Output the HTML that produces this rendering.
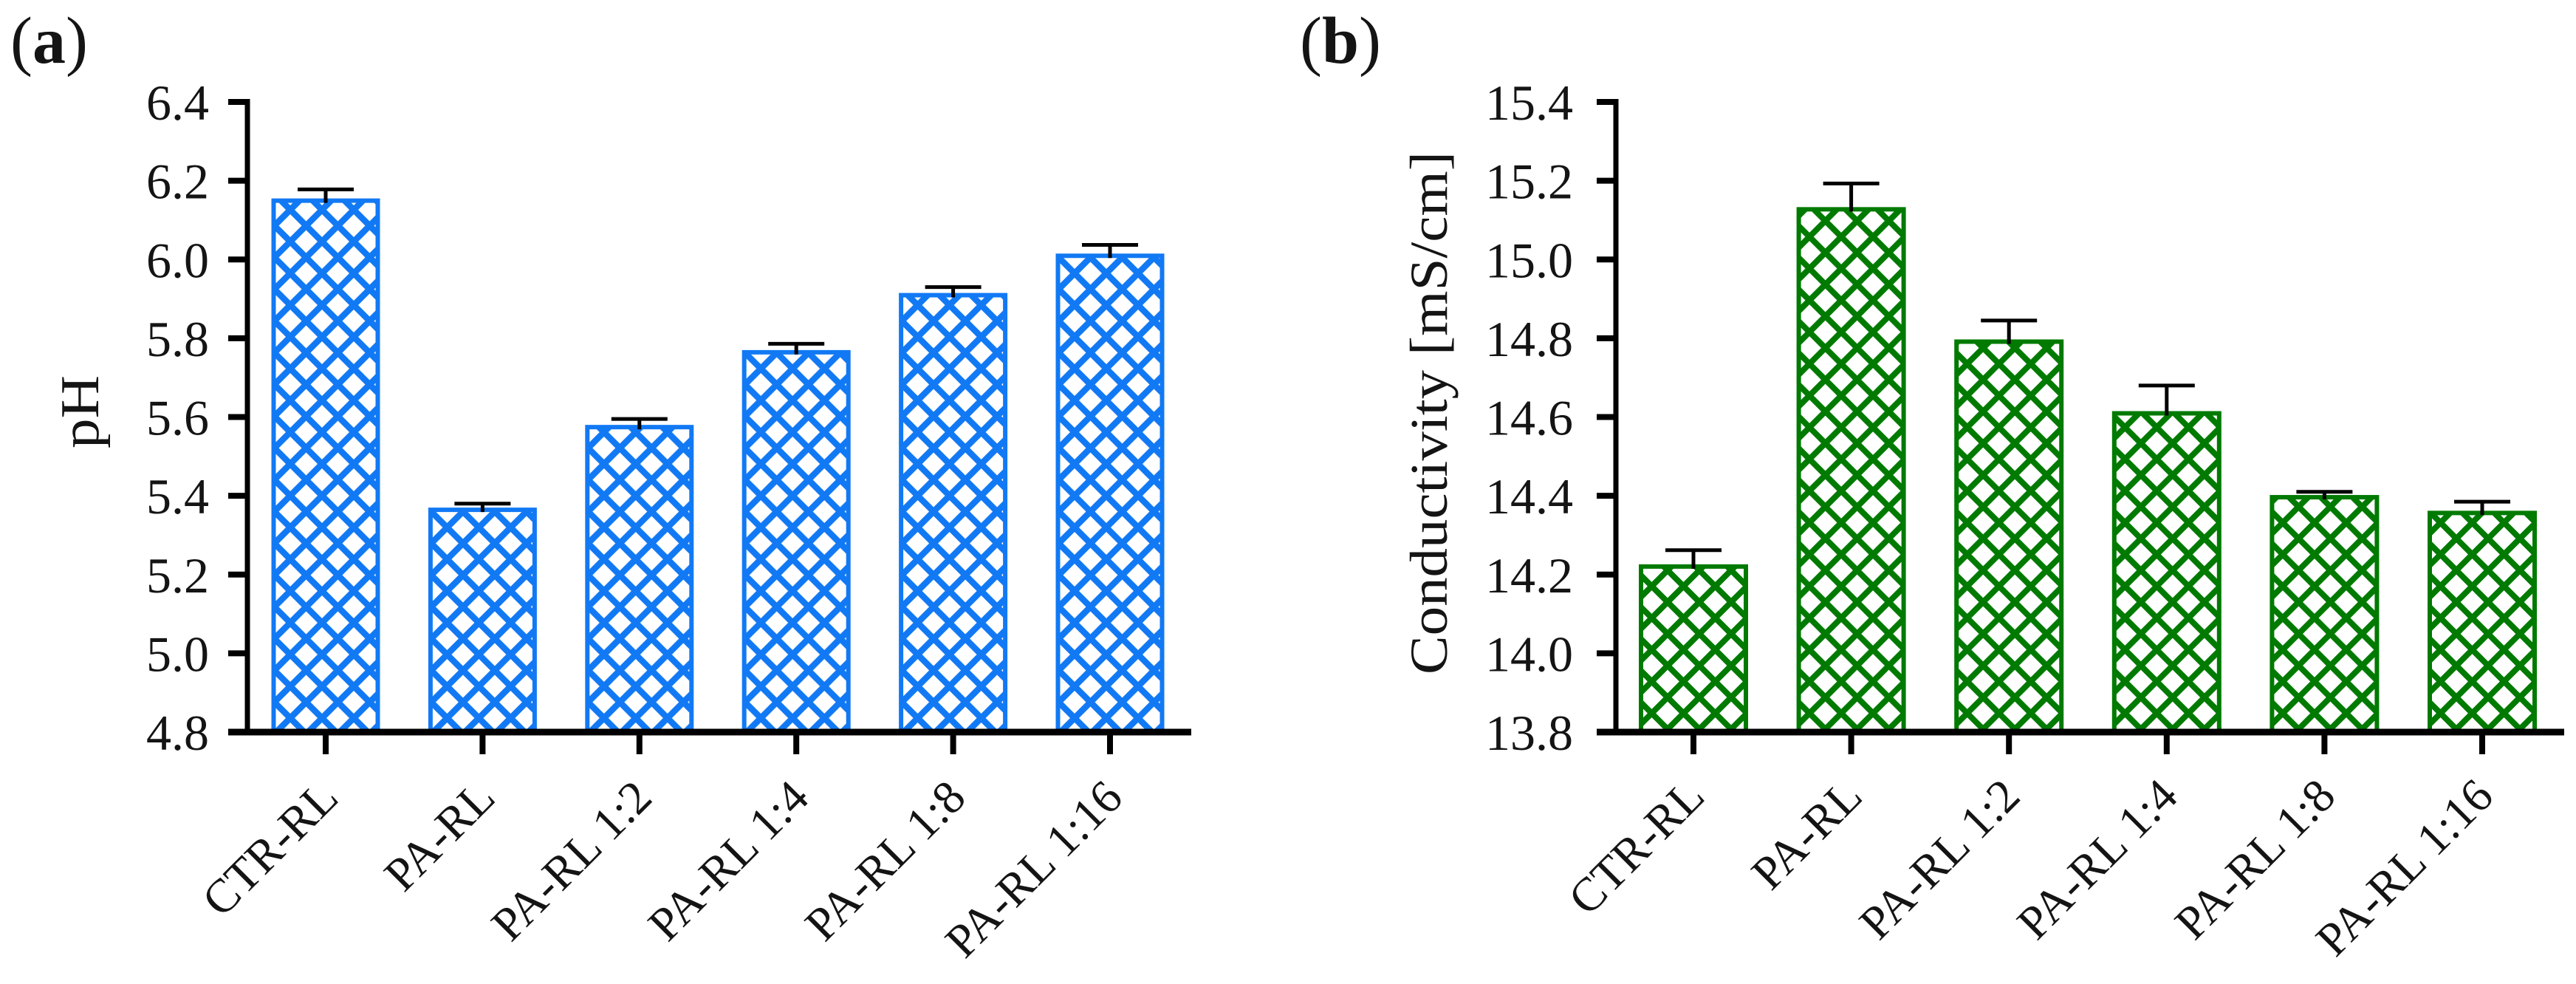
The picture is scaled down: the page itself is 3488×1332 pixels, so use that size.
<!DOCTYPE html>
<html lang="en">
<head>
<meta charset="utf-8">
<title>pH and conductivity bar charts</title>
<style>
html,body{margin:0;padding:0;background:#fff;width:3488px;height:1332px;overflow:hidden}
svg{display:block}
text{font-family:"Liberation Serif","DejaVu Serif",serif;fill:#141414}
</style>
</head>
<body>
<svg id="figure" xmlns="http://www.w3.org/2000/svg" width="3488" height="1332" viewBox="0 0 3488 1332">
  <defs id="defs"></defs>
  <text x="14" y="85" font-size="90" font-weight="400">(<tspan font-weight="700">a</tspan>)</text>
  <text x="1760" y="85" font-size="90" font-weight="400">(<tspan font-weight="700">b</tspan>)</text>
  <text transform="translate(133,607) rotate(-90)" font-size="74" textLength="99" lengthAdjust="spacingAndGlyphs">pH</text>
  <text transform="translate(1959,913) rotate(-90)" font-size="72" textLength="708" lengthAdjust="spacingAndGlyphs">Conductivity [mS/cm]</text>
  <g id="panel-a"></g>
  <g id="panel-b"></g>
</svg>
<script>
const categories = ["CTR-RL", "PA-RL", "PA-RL 1:2", "PA-RL 1:4", "PA-RL 1:8", "PA-RL 1:16"];
const phValues = [6.155, 5.37, 5.58, 5.77, 5.915, 6.015];
const phErrorTops = [6.178, 5.38, 5.595, 5.786, 5.93, 6.037];
const phTicks = ["4.8", "5.0", "5.2", "5.4", "5.6", "5.8", "6.0", "6.2", "6.4"];
const conductivityValues = [14.226, 15.133, 14.797, 14.615, 14.402, 14.362];
const conductivityErrorTops = [14.262, 15.193, 14.845, 14.68, 14.41, 14.385];
const conductivityTicks = ["13.8", "14.0", "14.2", "14.4", "14.6", "14.8", "15.0", "15.2", "15.4"];

const NS = "http://www.w3.org/2000/svg";
const defs = document.getElementById("defs");

function mk(parent, tag, attrs) {
  const el = document.createElementNS(NS, tag);
  for (const k in attrs) el.setAttribute(k, attrs[k]);
  parent.appendChild(el);
  return el;
}

function drawPanel(cfg) {
  const root = document.getElementById(cfg.id);
  const yTop = 138, yBottom = 991;
  const vMin = parseFloat(cfg.ticks[0]);
  const vMax = parseFloat(cfg.ticks[cfg.ticks.length - 1]);
  const yScale = v => yBottom + (v - vMin) / (vMax - vMin) * (yTop - yBottom);
  const xScale = i => cfg.x0 + i * cfg.step;
  const barW = cfg.barW;

  cfg.values.forEach((v, i) => {
    const cx = xScale(i);
    const left = cx - barW / 2;
    const pid = cfg.id + "-hatch-" + i;
    const pat = mk(defs, "pattern", {id: pid, patternUnits: "userSpaceOnUse", width: 43, height: 43,
      patternTransform: "translate(" + (left + cfg.hatchDx) + "," + (yBottom + cfg.hatchDy) + ")"});
    mk(pat, "path", {d: "M-10,-10L53,53M-10,53L53,-10", stroke: cfg.color, "stroke-width": cfg.hatchW, fill: "none"});
    const sw = 6;
    const top = yScale(v);
    const bar = mk(root, "rect", {x: left + sw / 2, y: top + sw / 2, width: barW - sw, height: yBottom - top - sw / 2,
      fill: "url(#" + pid + ")", stroke: cfg.color, "stroke-width": sw});
    
    
    const eTop = yScale(cfg.errors[i]);
    const stem = mk(root, "line", {x1: cx, x2: cx, y1: eTop, y2: top + 6, stroke: "#000", "stroke-width": 5});
    
    
    const cap = mk(root, "line", {x1: cx - 38, x2: cx + 38, y1: eTop, y2: eTop, stroke: "#000", "stroke-width": 5});
    
    
    const tick = mk(root, "line", {x1: cx, x2: cx, y1: yBottom, y2: 1021, stroke: "#000", "stroke-width": 8});
    
    
    const lx = cx + cfg.labelDx, ly = cfg.labelY;
    const label = mk(root, "text", {"text-anchor": "end", "font-size": cfg.labelSize,
      transform: "translate(" + lx + "," + ly + ") rotate(" + cfg.labelAngle + ")"});
    label.textContent = categories[i];
    
    
  });

  const yAxis = mk(root, "line", {x1: cfg.axisX, x2: cfg.axisX, y1: yTop - 4, y2: yBottom + 4, stroke: "#000", "stroke-width": 7});
  
  
  const xAxis = mk(root, "line", {x1: cfg.axisX - 26, x2: cfg.axisEnd, y1: yBottom, y2: yBottom, stroke: "#000", "stroke-width": 9});
  
  

  cfg.ticks.forEach(t => {
    const y = yScale(parseFloat(t));
    const tick = mk(root, "line", {x1: cfg.axisX - 26, x2: cfg.axisX, y1: y, y2: y, stroke: "#000", "stroke-width": 8});
    
    
    const label = mk(root, "text", {x: cfg.labelRight, y: y + 24, "text-anchor": "end", "font-size": 68});
    label.textContent = t;
    
    
  });
}

drawPanel({id: "panel-a", ticks: phTicks, values: phValues, errors: phErrorTops, color: "#1279f4", barW: 147,
  x0: 441, step: 212.4, axisX: 335, axisEnd: 1613, labelRight: 283, labelDx: 20, labelY: 1083, labelSize: 64, labelAngle: -45,
  hatchDx: 4, hatchDy: 2.5, hatchW: 8.5});
drawPanel({id: "panel-b", ticks: conductivityTicks, values: conductivityValues, errors: conductivityErrorTops, color: "#007a00", barW: 148,
  x0: 2293, step: 213.6, axisX: 2188, axisEnd: 3472, labelRight: 2130, labelDx: 18, labelY: 1081, labelSize: 64, labelAngle: -45,
  hatchDx: -4, hatchDy: -4, hatchW: 8});
</script>
</body>
</html>
